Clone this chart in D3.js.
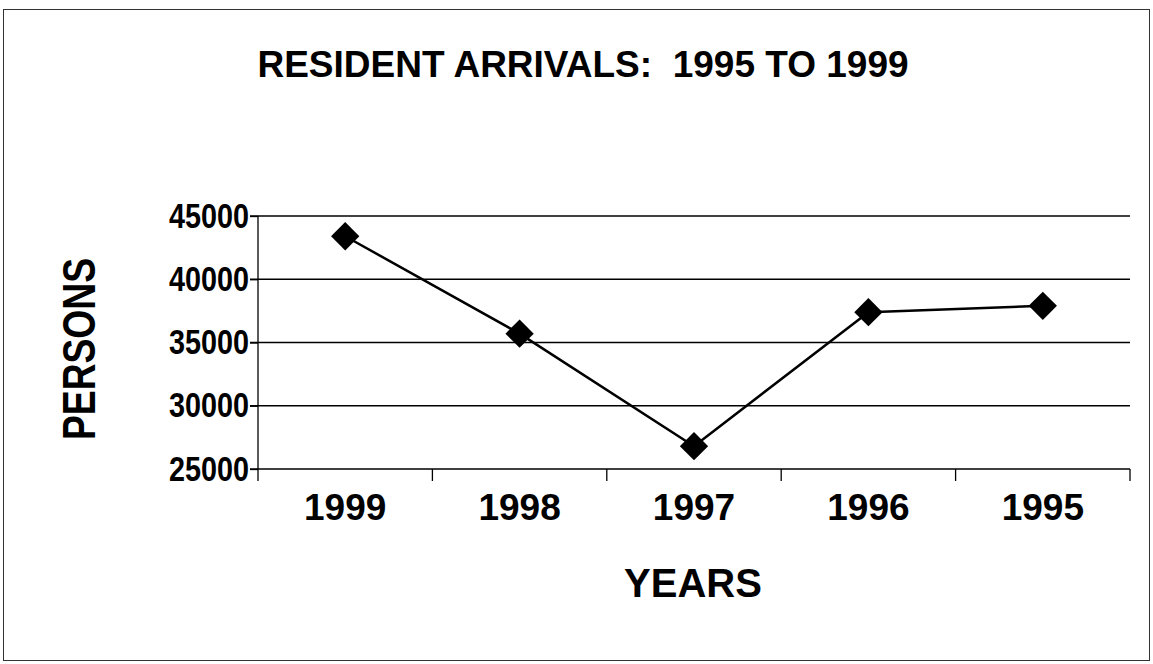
<!DOCTYPE html>
<html>
<head>
<meta charset="utf-8">
<script src="https://cdn.jsdelivr.net/npm/d3@7"></script>
<style>
  body { margin: 0; background: #fff; }
  text { font-family: "Liberation Sans", Arial, sans-serif; font-weight: bold; fill: #000; }
</style>
</head>
<body>
<div id="lineChart"></div>
<script>
var years = ["1999", "1998", "1997", "1996", "1995"];
var persons = [43400, 35700, 26800, 37400, 37900];
var yTicks = [25000, 30000, 35000, 40000, 45000];

var W = 1153, H = 664;
var margin = {top: 216, right: 23, bottom: 195, left: 258},
    width = W - margin.left - margin.right,
    height = H - margin.top - margin.bottom;

var svg = d3.select("#lineChart")
  .append("svg")
    .attr("width", W)
    .attr("height", H);

// outer frame
svg.append("rect")
  .attr("x", 3.5)
  .attr("y", 9.5)
  .attr("width", 1146)
  .attr("height", 651)
  .attr("fill", "none")
  .attr("stroke", "#333")
  .attr("stroke-width", 1);

svg.append("text")
  .attr("x", 583)
  .attr("y", 77)
  .attr("text-anchor", "middle")
  .style("font-size", "37px")
  .style("white-space", "pre")
  .text("RESIDENT ARRIVALS:  1995 TO 1999");

var g = svg.append("g")
  .attr("transform", "translate(" + margin.left + "," + margin.top + ")");

var data = years.map(function (d, i) { return {year: d, value: persons[i]}; });

// X scale
var x = d3.scaleBand()
  .domain(years)
  .range([0, width]);

// Y scale
var y = d3.scaleLinear()
  .domain([25000, 45000])
  .range([height, 0]);

// gridlines
g.selectAll(".grid")
  .data(yTicks)
  .enter()
  .append("line")
    .attr("x1", -8)
    .attr("x2", width)
    .attr("y1", function (d) { return y(d); })
    .attr("y2", function (d) { return y(d); })
    .attr("stroke", "#000")
    .attr("stroke-width", 1.3);

// Y axis
var yAxis = g.append("g")
  .call(d3.axisLeft(y).tickValues(yTicks).tickSize(8).tickPadding(1).tickFormat(d3.format("d")));
yAxis.select(".domain").attr("stroke", "#000").attr("stroke-width", 1.3)
  .attr("d", "M0,0V" + (height + 12));
yAxis.selectAll(".tick line").attr("stroke-width", 1.3);
yAxis.selectAll("text")
  .style("font-size", "35px")
  .attr("textLength", 80)
  .attr("lengthAdjust", "spacingAndGlyphs");

// X axis, ticks at category boundaries
var xAxis = g.append("g")
  .attr("transform", "translate(0," + height + ")")
  .call(d3.axisBottom(x).tickSize(0).tickPadding(25));
xAxis.select(".domain").remove();
xAxis.selectAll("text").style("font-size", "37px");
xAxis.selectAll(".bound")
  .data(years)
  .enter()
  .append("line")
    .attr("x1", function (d, i) { return x.step() * (i + 1); })
    .attr("x2", function (d, i) { return x.step() * (i + 1); })
    .attr("y1", 0)
    .attr("y2", 12)
    .attr("stroke", "#000")
    .attr("stroke-width", 1.3);

// line
var line = d3.line()
  .x(function (d) { return x(d.year) + x.bandwidth() / 2; })
  .y(function (d) { return y(d.value); });

g.append("path")
  .datum(data)
  .attr("d", line)
  .attr("fill", "none")
  .attr("stroke", "#000")
  .attr("stroke-width", 2.5);

// diamond markers
g.selectAll(".pt")
  .data(data)
  .enter()
  .append("path")
    .attr("d", d3.symbol().type(d3.symbolSquare).size(400))
    .attr("transform", function (d) {
      return "translate(" + (x(d.year) + x.bandwidth() / 2) + "," + y(d.value) + ") rotate(45)";
    })
    .attr("fill", "#000");

// axis titles
svg.append("text")
  .attr("transform", "translate(95,349) rotate(-90)")
  .attr("text-anchor", "middle")
  .style("font-size", "47px")
  .attr("textLength", 182)
  .attr("lengthAdjust", "spacingAndGlyphs")
  .text("PERSONS");

svg.append("text")
  .attr("x", 693)
  .attr("y", 597)
  .attr("text-anchor", "middle")
  .style("font-size", "40px")
  .text("YEARS");
</script>
</body>
</html>
